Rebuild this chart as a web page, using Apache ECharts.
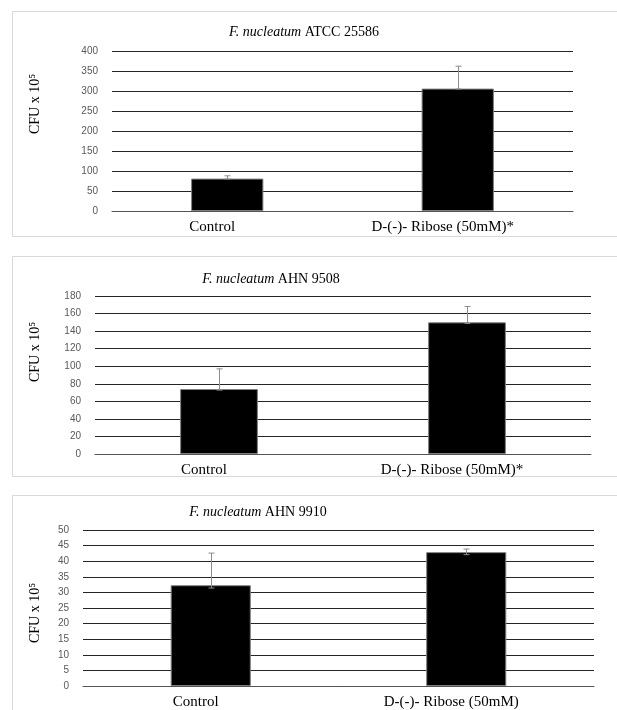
<!DOCTYPE html>
<html>
<head>
<meta charset="utf-8">
<script src="https://cdn.jsdelivr.net/npm/echarts@6/dist/echarts.min.js"></script>
<style>
  html, body { margin: 0; padding: 0; background: #fff; }
  #chart { width: 617px; height: 710px; }
</style>
</head>
<body>
<div id="chart"></div>
<script>
// data
var categories1 = ['Control', 'D-(-)- Ribose (50mM)*'];
var categories2 = ['Control', 'D-(-)- Ribose (50mM)*'];
var categories3 = ['Control', 'D-(-)- Ribose (50mM)'];

var strains = ['ATCC 25586', 'AHN 9508', 'AHN 9910'];

var values1 = [81, 306];
var errPlus1 = [7, 56];
var errMinus1 = [1, 1];

var values2 = [74, 150];
var errPlus2 = [23, 18];
var errMinus2 = [1.2, 1.2];

var values3 = [32.3, 42.9];
var errPlus3 = [10.3, 1];
var errMinus3 = [0.9, 0.8];

var yMax = [400, 180, 50];
var yStep = [50, 20, 5];

var serif = '"Liberation Serif", "DejaVu Serif", serif';
var sans = '"Liberation Sans", Arial, sans-serif';

var chart = echarts.init(document.getElementById('chart'));

var grids = [
  { left: 112, right: 44, top: 51, height: 160 },
  { left: 95, right: 26, top: 296, height: 158 },
  { left: 83, right: 23, top: 530, height: 156 }
];

function xAx(i, cats) {
  return {
    type: 'category', gridIndex: i, data: cats,
    axisTick: { show: false },
    axisLine: { lineStyle: { color: '#555', width: 1 } },
    axisLabel: {
      color: '#000', fontFamily: serif, fontSize: 15, margin: 9,
      formatter: function (v) { return '{a|' + v + '}'; },
      rich: { a: { fontFamily: serif, fontSize: 15, color: '#000', padding: [0, 30, 0, 0] } }
    }
  };
}
function yAx(i) {
  return {
    type: 'value', gridIndex: i, min: 0, max: yMax[i], interval: yStep[i],
    axisLine: { show: false }, axisTick: { show: false },
    axisLabel: { color: '#595959', fontFamily: sans, fontSize: 10, margin: 14 },
    splitLine: { lineStyle: { color: '#262626', width: 1 } }
  };
}

function barSeries(i, vals) {
  return {
    type: 'bar', xAxisIndex: i, yAxisIndex: i, data: vals,
    barGap: '0%', barCategoryGap: '68.65%',
    itemStyle: { color: '#000', borderColor: '#7f7f7f', borderWidth: 1 },
    z: 2
  };
}

function errSeries(i, vals, plus, minus) {
  var d = vals.map(function (v, k) { return [k, v, plus[k], minus[k]]; });
  return {
    type: 'custom', xAxisIndex: i, yAxisIndex: i, data: d, z: 3,
    renderItem: function (params, api) {
      var x = api.value(0), v = api.value(1);
      var top = api.coord([x, v + api.value(2)]);
      var bot = api.coord([x, v - api.value(3)]);
      var cx = Math.round(top[0]) + 0.5;
      var st = { stroke: '#8c8c8c', lineWidth: 1 };
      return {
        type: 'group', children: [
          { type: 'line', shape: { x1: cx, y1: top[1], x2: cx, y2: bot[1] }, style: st },
          { type: 'line', shape: { x1: cx - 3, y1: top[1], x2: cx + 3, y2: top[1] }, style: st },
          { type: 'line', shape: { x1: cx - 3, y1: bot[1], x2: cx + 3, y2: bot[1] }, style: st }
        ]
      };
    }
  };
}

function titleText(x, y, strain) {
  return {
    type: 'text', x: x, y: y,
    style: {
      text: '{i|F. nucleatum} ' + strain,
      align: 'center', verticalAlign: 'middle',
      font: '14px ' + serif, fill: '#000',
      rich: { i: { fontStyle: 'italic', fontFamily: serif, fontSize: 14, fill: '#000' } }
    }
  };
}
function yTitle(x, y) {
  return {
    type: 'text', x: x, y: y, rotation: Math.PI / 2,
    style: {
      text: 'CFU x 10\u2075', align: 'center', verticalAlign: 'middle',
      font: '14px ' + serif, fill: '#000'
    }
  };
}
function frame(y, h) {
  return {
    type: 'rect', shape: { x: 12.5, y: y + 0.5, width: 610, height: h },
    style: { fill: 'none', stroke: '#d9d9d9', lineWidth: 1 }, z: -1
  };
}

chart.setOption({
  animation: false,
  backgroundColor: '#fff',
  grid: grids,
  xAxis: [xAx(0, categories1), xAx(1, categories2), xAx(2, categories3)],
  yAxis: [yAx(0), yAx(1), yAx(2)],
  series: [
    barSeries(0, values1), errSeries(0, values1, errPlus1, errMinus1),
    barSeries(1, values2), errSeries(1, values2, errPlus2, errMinus2),
    barSeries(2, values3), errSeries(2, values3, errPlus3, errMinus3)
  ],
  graphic: [
    frame(11, 225), frame(256, 220), frame(495, 240),
    titleText(304, 32, strains[0]),
    titleText(271, 279, strains[1]),
    titleText(258, 512, strains[2]),
    yTitle(35, 104), yTitle(35, 352), yTitle(35, 613)
  ]
});
</script>
</body>
</html>
